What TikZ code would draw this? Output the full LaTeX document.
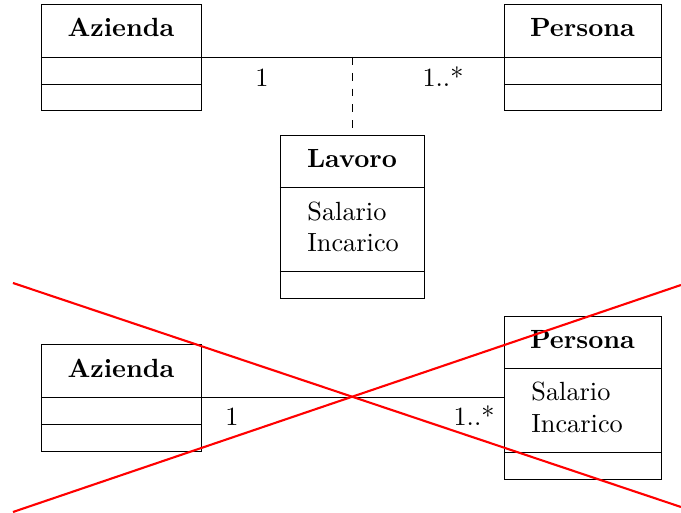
\documentclass[tikz,border=0pt]{standalone}
\newdimen\px \px=0.38pt
\tikzset{
  every path/.style={line width=0.32pt},
  classbox/.style={draw, rectangle, inner sep=0pt},
  classname/.style={font=\bfseries, anchor=base, inner sep=0pt},
  attr/.style={anchor=base west, inner sep=0pt},
  mult/.style={anchor=base, inner sep=0pt},
  crossline/.style={red, line width=0.8pt},
}
\begin{document}
\begin{tikzpicture}[x=0.38pt, y=-0.38pt]
\useasboundingbox (0,0) rectangle (681,513);

% ---- upper diagram: association class
\node[classbox, minimum width=160\px, minimum height=106\px] (az1) at (121,57) {};
\draw (41,57) -- (201,57) (41,84) -- (201,84);
\node[classname] (az1t) at (121,37) {Azienda};

\node[classbox, minimum width=157\px, minimum height=106\px] (pe1) at (582.5,57) {};
\draw (504,57) -- (661,57) (504,84) -- (661,84);
\node[classname] (pe1t) at (582.5,37) {Persona};

\node[classbox, minimum width=144\px, minimum height=163\px] (lav) at (352,216.5) {};
\draw (280,187) -- (424,187) (280,271) -- (424,271);
\node[classname] (lavt) at (352,168) {Lavoro};
\node[attr] (lava) at (307,221) {Salario};
\node[attr] (lavb) at (307,252) {Incarico};

\draw (az1) -- (pe1);
\coordinate (assoc) at (352,57);
\draw[dashed] (assoc) -- (lav);
\node[mult] (m1) at (262,87) {1};
\node[mult] (m2) at (443,87) {1..*};

% ---- lower diagram: attributes moved into Persona
\node[classbox, minimum width=160\px, minimum height=107\px] (az2) at (121,397.5) {};
\draw (41,397) -- (201,397) (41,424) -- (201,424);
\node[classname] (az2t) at (121,378) {Azienda};

\node[classbox, minimum width=157\px, minimum height=163\px] (pe2) at (582.5,397.5) {};
\draw (504,368) -- (661,368) (504,452) -- (661,452);
\node[classname] (pe2t) at (582.5,349) {Persona};
\node[attr] (pea) at (531,401) {Salario};
\node[attr] (peb) at (531,433) {Incarico};

\draw (az2) -- (pe2);
\node[mult] (m3) at (232,426) {1};
\node[mult] (m4) at (474,426) {1..*};

% ---- crossing out the lower diagram
\coordinate (c1) at (13,283);
\coordinate (c2) at (681,507);
\coordinate (c3) at (13,512);
\coordinate (c4) at (681,285);
\draw[crossline] (c1) -- (c2);
\draw[crossline] (c3) -- (c4);
\end{tikzpicture}
\end{document}
